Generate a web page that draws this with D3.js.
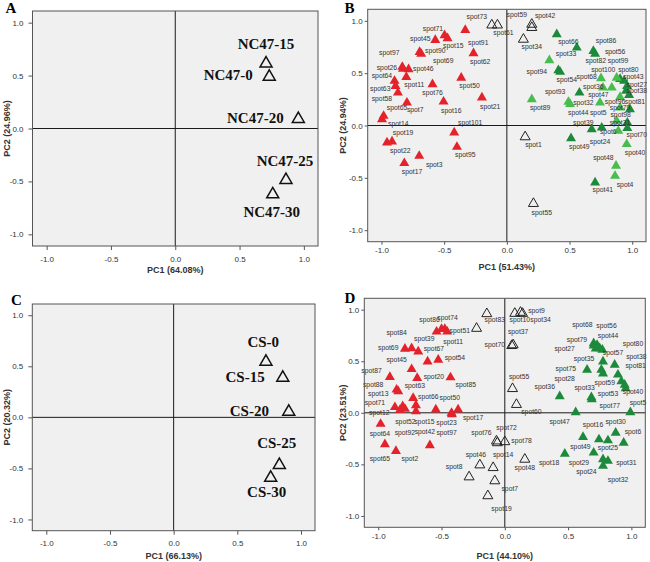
<!DOCTYPE html>
<html>
<head>
<meta charset="utf-8">
<script src="https://cdn.jsdelivr.net/npm/d3@7"></script>
<style>
  body { margin: 0; background: #fff; }
  svg { display: block; }
  .tick text { font-family: "Liberation Sans", Arial, sans-serif; font-size: 8px; fill: #333; }
  .tick line { stroke: #555; }
  .axis-title { font-family: "Liberation Sans", Arial, sans-serif; font-size: 9px; font-weight: bold; fill: #333; }
  .panel-letter { font-family: "Liberation Serif", "Times New Roman", serif; font-size: 15px; font-weight: bold; fill: #000; }
  .big-label { font-family: "Liberation Serif", "Times New Roman", serif; font-size: 15px; font-weight: bold; fill: #111; }
  .spot-label { font-family: "Liberation Sans", Arial, sans-serif; font-size: 6.8px; fill: #333; }
</style>
</head>
<body>
<svg id="chart" width="650" height="562"></svg>
<script>
// ---------- data

const AXIS_TICKS = [-1.0, -0.5, 0.0, 0.5, 1.0];
const PANEL_LETTERS = ["A", "B", "C", "D"];
const PC1_TITLES = ["PC1 (64.08%)", "PC1 (51.43%)", "PC1 (66.13%)", "PC1 (44.10%)"];
const PC2_TITLES = ["PC2 (24.96%)", "PC2 (24.94%)", "PC2 (20.32%)", "PC2 (23.51%)"];

// panel A: samples [name, PC1, PC2]
const A_SAMPLES = [
  ["NC47-15", 0.706, 0.631],
  ["NC47-0", 0.731, 0.505],
  ["NC47-20", 0.957, 0.106],
  ["NC47-25", 0.861, -0.470],
  ["NC47-30", 0.758, -0.606]
];

// panel C: samples
const C_SAMPLES = [
  ["CS-0", 0.725, 0.562],
  ["CS-15", 0.857, 0.405],
  ["CS-20", 0.904, 0.072],
  ["CS-25", 0.830, -0.450],
  ["CS-30", 0.762, -0.574]
];

// panel B: spot loadings
const B_RED = [
  ["spot91", -0.332, 0.926], ["spot71", -0.497, 0.875], ["spot15", -0.473, 0.846],
  ["spot45", -0.571, 0.830], ["spot90", -0.696, 0.716], ["spot69", -0.683, 0.697],
  ["spot62", -0.266, 0.703], ["spot97", -0.834, 0.573], ["spot26", -0.829, 0.556],
  ["spot46", -0.784, 0.551], ["spot64", -0.896, 0.439], ["spot63", -0.888, 0.391],
  ["spot11", -0.802, 0.477], ["spot50", -0.364, 0.470], ["spot58", -0.869, 0.327],
  ["spot76", -0.593, 0.407], ["spot21", -0.199, 0.280], ["spot7", -0.797, 0.232],
  ["spot16", -0.505, 0.241], ["spot65", -0.983, 0.105], ["spot14", -0.996, 0.073],
  ["spot101", -0.420, -0.054], ["spot19", -0.956, -0.150], ["spot22", -0.916, -0.140],
  ["spot95", -0.398, -0.191], ["spot3", -0.699, -0.277], ["spot17", -0.818, -0.346]
];
const B_OPEN = [
  ["spot73", -0.120, 0.973], ["spot61", -0.075, 0.973], ["spot59", 0.199, 0.980],
  ["spot42", 0.199, 0.949], ["spot34", 0.132, 0.837], ["spot1", 0.146, -0.095],
  ["spot55", 0.212, -0.732]
];
const B_GREEN_DARK = [
  ["spot66", 0.398, 0.885], ["spot86", 0.690, 0.725], ["spot56", 0.704, 0.697],
  ["spot82", 0.558, 0.757], ["spot99", 0.903, 0.458], ["spot94", 0.411, 0.541],
  ["spot54", 0.425, 0.525], ["spot80", 0.935, 0.439], ["spot43", 0.959, 0.391],
  ["spot27", 0.951, 0.344], ["spot38", 0.975, 0.305], ["spot93", 0.579, 0.327],
  ["spot81", 0.982, 0.169], ["spot31", 0.961, 0.041], ["spot39", 0.677, -0.022],
  ["spot70", 0.961, -0.012], ["spot24", 0.757, -0.007], ["spot49", 0.512, -0.108],
  ["spot41", 0.704, -0.531]
];
const B_GREEN_LIGHT = [
  ["spot33", 0.339, 0.637], ["spot68", 0.751, 0.465], ["spot100", 0.876, 0.470],
  ["spot36", 0.767, 0.375], ["spot47", 0.837, 0.375], ["spot89", 0.199, 0.264],
  ["spot32", 0.491, 0.239], ["spot96", 0.903, 0.286], ["spot44", 0.504, 0.219],
  ["spot5", 0.743, 0.232], ["spot79", 0.903, 0.184], ["spot98", 0.876, 0.057],
  ["spot6", 0.889, -0.038], ["spot40", 0.956, -0.165], ["spot48", 0.871, -0.372],
  ["spot4", 0.863, -0.468]
];

// panel D: spot loadings
const D_RED = [
  ["spot86", -0.539, 0.800], ["spot74", -0.500, 0.826], ["spot51", -0.474, 0.826],
  ["spot11", -0.455, 0.800], ["spot84", -0.789, 0.634], ["spot39", -0.684, 0.608],
  ["spot69", -0.736, 0.639], ["spot67", -0.610, 0.511], ["spot54", -0.526, 0.527],
  ["spot45", -0.736, 0.437], ["spot87", -0.908, 0.360], ["spot20", -0.692, 0.350],
  ["spot85", -0.429, 0.357], ["spot88", -0.855, 0.238], ["spot63", -0.724, 0.157],
  ["spot13", -0.842, 0.222], ["spot66", -0.702, 0.087], ["spot50", -0.545, 0.045],
  ["spot71", -0.868, 0.068], ["spot12", -0.807, 0.077], ["spot52", -0.789, 0.051],
  ["spot15", -0.702, 0.029], ["spot23", -0.421, 0.013], ["spot17", -0.369, 0.045],
  ["spot64", -0.981, -0.094], ["spot92", -0.829, 0.039], ["spot42", -0.592, -0.302],
  ["spot97", -0.418, 0.000], ["spot65", -0.947, -0.292], ["spot2", -0.860, -0.357]
];
// the second open triangle near spot51 carries no readable label in the source
const D_OPEN = [
  ["spot9", 0.124, 0.987], ["spot10", 0.079, 0.977], ["spot34", 0.140, 0.977],
  ["spot83", -0.142, 0.974], ["", -0.223, 0.832], ["spot37", 0.066, 0.672],
  ["spot70", 0.055, 0.665], ["spot55", 0.061, 0.248], ["spot60", 0.092, 0.094],
  ["spot76", -0.066, -0.260], ["spot72", -0.059, -0.277], ["spot78", 0.000, -0.267],
  ["spot46", -0.197, -0.492], ["spot8", -0.282, -0.608], ["spot14", -0.092, -0.518],
  ["spot48", 0.158, -0.437], ["spot7", -0.079, -0.646], ["spot19", -0.134, -0.791]
];
const D_GREEN = [
  ["spot68", 0.702, 0.688], ["spot56", 0.729, 0.672], ["spot44", 0.750, 0.639],
  ["spot79", 0.702, 0.665], ["spot27", 0.718, 0.636], ["spot80", 0.771, 0.624],
  ["spot57", 0.868, 0.479], ["spot38", 0.894, 0.383], ["spot35", 0.776, 0.511],
  ["spot81", 0.921, 0.318], ["spot75", 0.650, 0.431], ["spot28", 0.763, 0.431],
  ["spot59", 0.776, 0.394], ["spot36", 0.434, 0.174], ["spot33", 0.684, 0.164],
  ["spot53", 0.947, 0.286], ["spot40", 0.955, 0.251], ["spot77", 0.687, 0.145],
  ["spot5", 0.992, 0.019], ["spot47", 0.560, 0.019], ["spot30", 0.876, -0.180],
  ["spot16", 0.744, -0.244], ["spot6", 0.939, -0.277], ["spot49", 0.618, -0.222],
  ["spot25", 0.815, -0.254], ["spot18", 0.474, -0.383], ["spot29", 0.702, -0.373],
  ["spot31", 0.815, -0.453], ["spot24", 0.776, -0.437], ["spot32", 0.776, -0.501]
];

// ---------- layout

const DOMAIN = [-1.11, 1.11];
const RED = "#e3222b";
const GREEN_DARK = "#1d8a3b";
const GREEN_LIGHT = "#48bd4d";
const DEFAULT_OFFSET = [8, 9.5];

// label offsets from the triangle centre, in px
const A_OFFSETS = {
  "NC47-15": [0, -18.4], "NC47-0": [-41, 0], "NC47-20": [-43, 0],
  "NC47-25": [-1, -17.3], "NC47-30": [-1, 19]
};
const C_OFFSETS = {
  "CS-0": [-2.7, -18.3], "CS-15": [-37.7, 0.7], "CS-20": [-39.4, 0.7],
  "CS-25": [-2.6, -20.6], "CS-30": [-4, 15.7]
};
const B_OFFSETS = {
  spot91: [13, 13.7], spot71: [-11.6, -5], spot15: [5.7, 8.4], spot45: [-15, 0],
  spot90: [15.7, 0], spot69: [22, 8], spot62: [6.7, 9.4], spot97: [-13, -13],
  spot26: [-16, 0], spot46: [14.7, 0.7], spot64: [-12.6, -4], spot63: [-15.3, 4.3],
  spot11: [8, 9], spot50: [8.3, 9.3], spot58: [-16, 7.3], spot76: [0, 10],
  spot21: [8.3, 10], spot7: [8.3, 8.3], spot16: [7.7, 10], spot65: [13.4, -6.7],
  spot14: [16.3, 5.7], spot101: [16, -8.4], spot19: [16, -9], spot22: [8.3, 10],
  spot95: [8.3, 9], spot3: [15, 10], spot17: [7.7, 9.4],
  spot73: [-15, -7], spot61: [6, 9.3], spot59: [-15, -8.3], spot42: [13.3, -10.5],
  spot34: [8.4, 9], spot1: [8.3, 9], spot55: [8.4, 10],
  spot66: [11.6, 8.4], spot86: [12.7, -9.3], spot56: [20, -0.7], spot82: [19, 14],
  spot99: [-2, -17.3], spot33: [16.7, -5], spot94: [-21.6, 2.4], spot54: [6.7, 9],
  spot68: [-14.3, 0], spot100: [-13.4, -6.7], spot80: [4.3, -10], spot43: [6.3, -7.7],
  spot27: [10.7, -5], spot38: [7.7, -3.3], spot93: [-24.3, 0], spot36: [-9.7, 0.6],
  spot47: [-13.4, 8.3], spot89: [8.3, 10], spot32: [15, 2.3], spot96: [-5, 5.7],
  spot81: [5, -6.6], spot44: [8.3, 9.7], spot5: [-1.7, 11], spot79: [0, 1.6],
  spot98: [4, -4.5], spot31: [-7.3, 1], spot39: [-8.4, -5.6], spot6: [-10, 1.7],
  spot70: [9.4, 7.7], spot24: [-1.7, 15], spot49: [8.3, 9.4], spot40: [8.3, 10],
  spot48: [-12.7, -6.7], spot4: [10, 10], spot41: [7.7, 9]
};
const D_OFFSETS = {
  spot86: [-7, -11], spot74: [6, -10], spot51: [15, 3.4], spot11: [6, 11.7],
  spot84: [-8.3, -15], spot39: [6, -11], spot69: [-23.4, 1], spot67: [6.3, -11],
  spot54: [16.7, -0.6], spot45: [-15, -8.4], spot87: [-18.3, -5], spot20: [16.7, 0],
  spot85: [15.3, 8.3], spot88: [-23.4, -4], spot63: [1.7, -10.7], spot13: [-20, 3.3],
  spot66: [12.3, -7.3], spot50: [14, -11], spot71: [-20, -2.7], spot12: [-23.4, 7.3],
  spot52: [0.5, 14], spot15: [8.5, 11.7], spot23: [-5, 11], spot17: [15, 9],
  spot64: [-0.7, 11.3], spot92: [5, 23.7], spot42: [-5, -12.6], spot97: [-5.3, 19.7],
  spot65: [-5, 16], spot2: [14, 9],
  spot9: [16, -0.7], spot10: [5, 7.3], spot34: [18, 7.3], spot83: [8, 7],
  spot37: [5, -11.6], spot70: [-17, 0], spot55: [6.6, -10.6], spot60: [15, 8.4],
  spot76: [-15, -7.3], spot72: [9.2, -13.4], spot78: [16.7, 0], spot46: [-4, -9],
  spot8: [-15, -9.3], spot14: [10, -11.7], spot48: [0, 10], spot7: [15, 9.3],
  spot19: [13.7, 14]
};
const D_GREEN_OFFSETS = {
  spot68: [-11.3, -17.7], spot56: [9.4, -18.3], spot44: [8.3, -11.7], spot79: [-16.7, -5],
  spot27: [-31, 1.3], spot80: [30.6, -5], spot57: [-1.7, -10.6], spot38: [18.4, -16.6],
  spot35: [-19, -1.7], spot81: [14.3, -14], spot75: [-21.3, 0], spot28: [-36.7, 10],
  spot59: [1.7, 10], spot36: [-15, -8.3], spot33: [-6.7, -8.7], spot53: [-16.7, 10],
  spot40: [7.3, 4.7], spot77: [18, 8], spot5: [7.6, -8.3], spot47: [-16, 10.7],
  spot30: [0, -10], spot16: [-6, -13.3], spot6: [9.3, -10], spot49: [-2.6, 10.7],
  spot25: [0, 9], spot18: [-15.7, 10], spot29: [-14.7, 11], spot31: [18.4, 3.3],
  spot24: [-16.6, 13.4], spot32: [15, 15]
};

const PANELS = [
  {
    frame: [32.5, 11, 318, 246], letter: [5.5, 12.7], tick: 4, pad: 5,
    xTitleY: 273, yTitleX: 7.3, labelClass: "big-label",
    series: [{ rows: A_SAMPLES, fill: "none", stroke: "#111", sw: 1.5, side: 12, offsets: A_OFFSETS }]
  },
  {
    frame: [367.7, 9.3, 646, 241.7], letter: [344.5, 12.7], tick: 3, pad: 2,
    xTitleY: 270, yTitleX: 343.3, labelClass: "spot-label",
    series: [
      { rows: B_RED, fill: RED, stroke: "none", sw: 0, side: 10, offsets: B_OFFSETS },
      { rows: B_OPEN, fill: "none", stroke: "#222", sw: 1, side: 10, offsets: B_OFFSETS },
      { rows: B_GREEN_DARK, fill: GREEN_DARK, stroke: "none", sw: 0, side: 10, offsets: B_OFFSETS },
      { rows: B_GREEN_LIGHT, fill: GREEN_LIGHT, stroke: "none", sw: 0, side: 10, offsets: B_OFFSETS }
    ]
  },
  {
    frame: [32.3, 304, 315, 530.7], letter: [11, 305], tick: 4, pad: 5,
    xTitleY: 559, yTitleX: 7.3, labelClass: "big-label",
    series: [{ rows: C_SAMPLES, fill: "none", stroke: "#111", sw: 1.5, side: 12, offsets: C_OFFSETS }]
  },
  {
    frame: [364.3, 298.3, 645.3, 527.3], letter: [344.5, 303.3], tick: 3, pad: 2,
    xTitleY: 559, yTitleX: 343.3, labelClass: "spot-label",
    series: [
      { rows: D_RED, fill: RED, stroke: "none", sw: 0, side: 10, offsets: D_OFFSETS },
      { rows: D_OPEN, fill: "none", stroke: "#222", sw: 1, side: 10, offsets: D_OFFSETS },
      { rows: D_GREEN, fill: GREEN_DARK, stroke: "none", sw: 0, side: 10, offsets: D_GREEN_OFFSETS }
    ]
  }
];

// ----------

const svg = d3.select("#chart");
const fmt = d => d.toFixed(1);

function trianglePath(side) {
  const h = side * Math.sqrt(3) / 2;
  const p = d3.path();
  p.moveTo(0, -h / 2);
  p.lineTo(side / 2, h / 2);
  p.lineTo(-side / 2, h / 2);
  p.closePath();
  return p.toString();
}

function drawPanel(cfg, i) {
  const [x0, y0, x1, y1] = cfg.frame;
  const x = d3.scaleLinear().domain(DOMAIN).range([x0, x1]);
  const y = d3.scaleLinear().domain(DOMAIN).range([y1, y0]);
  const g = svg.append("g");

  g.append("rect")
    .attr("x", x0).attr("y", y0)
    .attr("width", x1 - x0).attr("height", y1 - y0)
    .attr("fill", "#f0f0f0");

  // zero reference lines
  g.append("line")
    .attr("x1", x(0)).attr("x2", x(0)).attr("y1", y0).attr("y2", y1)
    .attr("stroke", "#1a1a1a").attr("stroke-width", 1);
  g.append("line")
    .attr("x1", x0).attr("x2", x1).attr("y1", y(0)).attr("y2", y(0))
    .attr("stroke", "#1a1a1a").attr("stroke-width", 1);

  cfg.series.forEach(s => {
    g.append("g")
      .selectAll("path")
      .data(s.rows)
      .join("path")
      .attr("d", trianglePath(s.side))
      .attr("transform", d => "translate(" + x(d[1]) + "," + y(d[2]) + ")")
      .attr("fill", s.fill)
      .attr("stroke", s.stroke)
      .attr("stroke-width", s.sw)
      .attr("stroke-linejoin", "miter");
  });

  cfg.series.forEach(s => {
    g.append("g")
      .selectAll("text")
      .data(s.rows.filter(d => d[0] !== ""))
      .join("text")
      .attr("class", cfg.labelClass)
      .attr("text-anchor", "middle")
      .attr("dy", "0.35em")
      .attr("x", d => x(d[1]) + (s.offsets[d[0]] || DEFAULT_OFFSET)[0])
      .attr("y", d => y(d[2]) + (s.offsets[d[0]] || DEFAULT_OFFSET)[1])
      .text(d => d[0]);
  });

  // frame
  g.append("rect")
    .attr("x", x0).attr("y", y0)
    .attr("width", x1 - x0).attr("height", y1 - y0)
    .attr("fill", "none").attr("stroke", "#555").attr("stroke-width", 1);

  const xAxis = d3.axisBottom(x).tickValues(AXIS_TICKS).tickFormat(fmt)
    .tickSize(cfg.tick).tickPadding(cfg.pad + 1);
  g.append("g")
    .attr("transform", "translate(0," + y1 + ")")
    .call(xAxis)
    .call(a => a.select(".domain").remove());

  const yAxis = d3.axisLeft(y).tickValues(AXIS_TICKS).tickFormat(fmt)
    .tickSize(cfg.tick).tickPadding(cfg.pad);
  g.append("g")
    .attr("transform", "translate(" + x0 + ",0)")
    .call(yAxis)
    .call(a => a.select(".domain").remove());

  g.append("text")
    .attr("class", "axis-title")
    .attr("text-anchor", "middle")
    .attr("x", (x0 + x1) / 2)
    .attr("y", cfg.xTitleY)
    .text(PC1_TITLES[i]);

  g.append("text")
    .attr("class", "axis-title")
    .attr("text-anchor", "middle")
    .attr("transform", "translate(" + cfg.yTitleX + "," + (y0 + y1) / 2 + ") rotate(-90)")
    .attr("dy", "0.35em")
    .text(PC2_TITLES[i]);

  g.append("text")
    .attr("class", "panel-letter")
    .attr("x", cfg.letter[0])
    .attr("y", cfg.letter[1])
    .text(PANEL_LETTERS[i]);
}

PANELS.forEach(drawPanel);
</script>
</body>
</html>
